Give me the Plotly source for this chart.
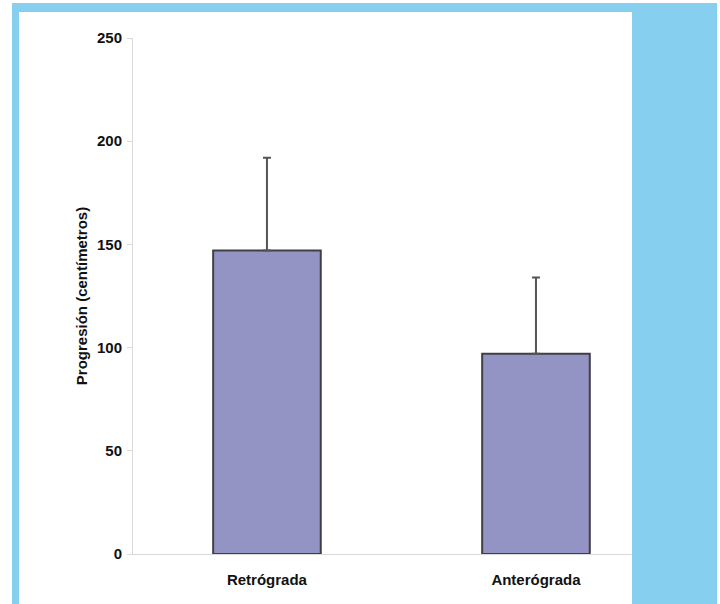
import plotly.graph_objects as go

categories = ["Retrógrada", "Anterógrada"]
values = [147, 97]
err_plus = [45, 37]
y_ticks = [0, 50, 100, 150, 200, 250]

W, H = 720, 604
L, R, T, B = 133, 632, 38, 554
pw, ph = R - L, B - T

def px(x):
    return (x - L) / pw

def py(y):
    return (B - y) / ph

fig = go.Figure()
fig.add_trace(go.Bar(
    x=categories, y=values, width=0.40,
    marker=dict(color="#9494C4", line=dict(color="#3f3f46", width=2)),
    error_y=dict(type="data", symmetric=False, array=err_plus,
                 arrayminus=[0, 0], color="#555555", thickness=2, width=4),
))

blue = "#87CFEF"
shapes = [
    dict(type="rect", xref="paper", yref="paper", x0=px(12), x1=px(717), y0=py(3), y1=py(12),
         fillcolor=blue, line=dict(width=0), layer="below"),
    dict(type="rect", xref="paper", yref="paper", x0=px(12), x1=px(19), y0=py(3), y1=py(604),
         fillcolor=blue, line=dict(width=0), layer="below"),
    dict(type="rect", xref="paper", yref="paper", x0=px(632), x1=px(717), y0=py(3), y1=py(604),
         fillcolor=blue, line=dict(width=0), layer="below"),
]

FAM = "Liberation Sans, Arial, sans-serif"
font_b = dict(family=FAM, size=15, color="#111111")

fig.update_layout(
    width=W, height=H,
    margin=dict(l=L, r=W - R, t=T, b=H - B, autoexpand=False),
    paper_bgcolor="white", plot_bgcolor="white",
    showlegend=False, shapes=shapes,
    font=font_b,
    xaxis=dict(range=[-0.498, 1.357], showline=True, linecolor="#d9d9d9", linewidth=1,
               ticks="outside", ticklen=12, tickcolor="rgba(0,0,0,0)",
               tickfont=dict(family=FAM, size=15, color="#111111", weight="bold"),
               showgrid=False, zeroline=False, fixedrange=True),
    yaxis=dict(range=[0, 250], tickvals=y_ticks, showline=True, linecolor="#d9d9d9", linewidth=1,
               ticks="outside", ticklen=5, tickcolor="#d9d9d9", ticklabelstandoff=2,
               tickfont=dict(family=FAM, size=15, color="#111111", weight="bold"),
               showgrid=False, zeroline=False, fixedrange=True,
               title=dict(text="Progresión (centímetros)", standoff=5,
                          font=dict(family=FAM, size=15, color="#111111", weight="bold"))),
)

fig.write_html("out.html", config={"displayModeBar": False},
               post_script="document.body.style.margin='0';")
